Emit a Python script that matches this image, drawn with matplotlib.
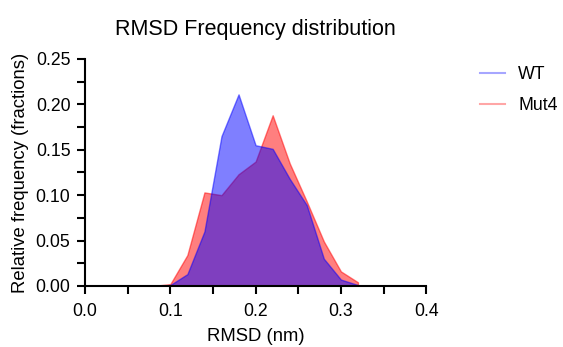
import numpy as np
import matplotlib
matplotlib.use('Agg')
import matplotlib.pyplot as plt
from matplotlib.lines import Line2D
from matplotlib.ticker import MultipleLocator

plt.rcParams['font.family'] = ['Liberation Sans', 'DejaVu Sans']

rmsd = [0.00, 0.02, 0.04, 0.06, 0.08, 0.10, 0.12, 0.14, 0.16,
        0.18, 0.20, 0.22, 0.24, 0.26, 0.28, 0.30, 0.32]
wt = [0, 0, 0, 0, 0, 0.001, 0.013, 0.060, 0.165,
      0.211, 0.155, 0.151, 0.118, 0.089, 0.030, 0.007, 0.001]
mut4 = [0, 0, 0, 0, 0, 0.002, 0.034, 0.103, 0.100,
        0.123, 0.137, 0.188, 0.135, 0.093, 0.049, 0.016, 0.004]

fig = plt.figure(figsize=(5.63, 3.47), dpi=100)
ax = fig.add_axes([0.151, 0.176, 0.606, 0.654])

# red first, blue on top -> bluish purple overlap
ax.fill_between(rmsd, mut4, color='red', alpha=0.5, lw=1, edgecolor=(1, 0, 0, 0.5))
ax.fill_between(rmsd, wt, color='blue', alpha=0.5, lw=1, edgecolor=(0, 0, 1, 0.5))

ax.set_xlim(0, 0.4)
ax.set_ylim(0, 0.25)
ax.xaxis.set_major_locator(MultipleLocator(0.1))
ax.xaxis.set_minor_locator(MultipleLocator(0.05))
ax.yaxis.set_major_locator(MultipleLocator(0.05))
ax.yaxis.set_minor_locator(MultipleLocator(0.025))
ax.xaxis.set_major_formatter(plt.FormatStrFormatter('%.1f'))
ax.yaxis.set_major_formatter(plt.FormatStrFormatter('%.2f'))

for s in ['top', 'right']:
    ax.spines[s].set_visible(False)
for s in ['left', 'bottom']:
    ax.spines[s].set_linewidth(1.5)
ax.tick_params(which='both', direction='out', width=1.5, length=6, labelsize=12.7)
ax.tick_params(axis='x', pad=6)
ax.tick_params(axis='y', pad=4.5)

ax.set_xlabel('RMSD (nm)', fontsize=13.3, labelpad=6)
ax.set_ylabel('Relative frequency (fractions)', fontsize=13.3, labelpad=5)
ax.set_title('RMSD Frequency distribution', fontsize=15.5, pad=17)

handles = [Line2D([], [], color='blue', alpha=0.35, lw=1.5),
           Line2D([], [], color='red', alpha=0.35, lw=1.5)]
fig.legend(handles, ['WT', 'Mut4'], loc='upper left', bbox_to_anchor=(0.853, 0.81),
           frameon=False, fontsize=12.8, handlelength=1.4, handletextpad=0.73,
           labelspacing=0.8, borderpad=0, borderaxespad=0)

fig.savefig('out.png', dpi=100)
